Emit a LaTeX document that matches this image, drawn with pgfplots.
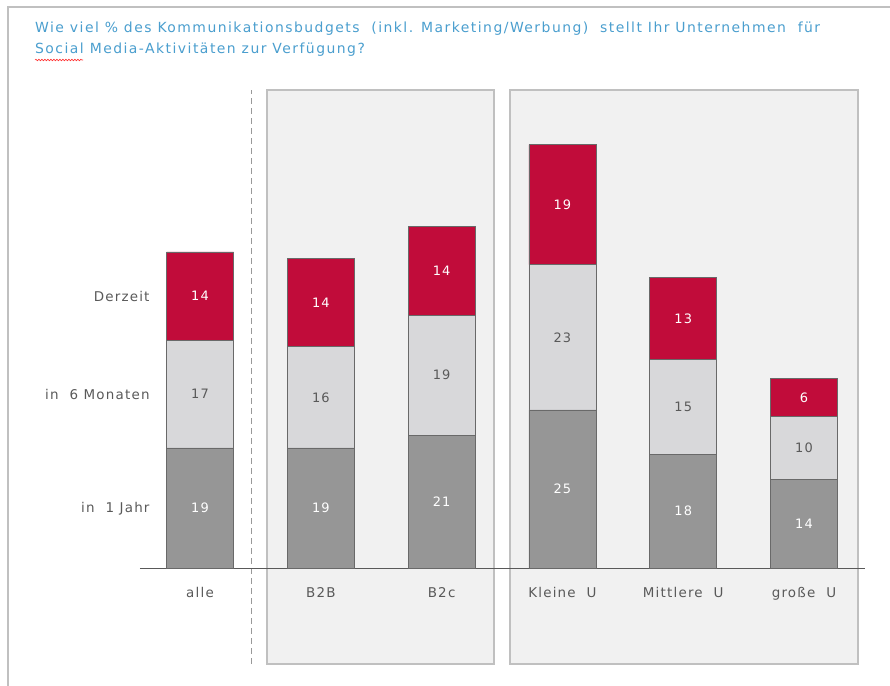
\documentclass[border=0pt]{standalone}
\usepackage{fontspec}
\setmainfont{DejaVu Sans}
\newfontfamily\lbl[LetterSpace=9]{DejaVu Sans}
\newfontfamily\ttl[LetterSpace=10.5]{DejaVu Sans}
\usepackage{pgfplots}
\pgfplotsset{compat=1.18}
\usepackage{pgfplotstable}
\usetikzlibrary{decorations.pathmorphing}

\definecolor{crimson}{RGB}{193,12,58}
\definecolor{lightbar}{RGB}{216,216,218}
\definecolor{darkbar}{RGB}{150,150,150}
\definecolor{baredge}{RGB}{105,105,105}
\definecolor{boxfill}{RGB}{241,241,241}
\definecolor{boxline}{RGB}{192,192,192}
\definecolor{txt}{RGB}{89,89,89}
\definecolor{titleblue}{RGB}{74,158,206}

% x: 0 = alle, 1 = B2B, 2 = B2c, 3 = Kleine U, 4 = Mittlere U, 5 = grosse U
\pgfplotstableread{
x jahr monate derzeit
0 19 17 14
1 19 16 14
2 21 19 14
3 25 23 19
4 18 15 13
5 14 10 6
}\budget

\begin{document}
\begin{tikzpicture}[x=1bp, y=1bp]
% screenshot frame, group boxes and separator (behind the axis)
\draw[boxline, line width=2bp] (8,0) -- (8,679) -- (890,679);
\filldraw[fill=boxfill, draw=boxline, line width=2.6bp] (267,22) rectangle (494,596);
\filldraw[fill=boxfill, draw=boxline, line width=2.6bp] (510,22) rectangle (858,596);
\draw[black!40, dash pattern=on 6bp off 4bp, line width=0.8bp] (251,22) -- (251,596);

\begin{axis}[
    name=ax,
    at={(0,0)}, anchor=south west,
    width=890bp, height=686bp, scale only axis,
    xmin=-1.656, xmax=5.712,
    ymin=-18.67, ymax=89.87,
    clip=false,
    ybar stacked,
    bar width=67bp,
    axis x line=middle,
    axis y line=none,
    x axis line style={draw=none},
    xtick=data,
    xticklabels={alle, B2B, B2c, Kleine~~U, Mittlere~~U, große~~U},
    major tick length=0pt,
    xticklabel style={anchor=north, yshift=-16bp, text=txt,
        font=\lbl\fontsize{13.5}{15}\selectfont},
    ytick=\empty,
    /pgf/number format/assume math mode=true,
    every node near coord/.append style={font=\lbl\fontsize{13}{15}\selectfont},
]
\addplot[fill=darkbar, draw=baredge, line width=0.8bp,
    nodes near coords, point meta=rawy,
    every node near coord/.append style={anchor=center, text=white}]
    table[x=x, y=jahr] {\budget};
\addplot[fill=lightbar, draw=baredge, line width=0.8bp,
    nodes near coords, point meta=rawy,
    every node near coord/.append style={anchor=center, text=txt}]
    table[x=x, y=monate] {\budget};
\addplot[fill=crimson, draw=baredge, line width=0.8bp,
    nodes near coords, point meta=rawy,
    every node near coord/.append style={anchor=center, text=white}]
    table[x=x, y=derzeit] {\budget};

% baseline
\draw[txt, line width=0.9bp] (axis cs:-0.497,0) -- (axis cs:5.505,0);

% row labels
\node[anchor=east, text=txt, font=\lbl\fontsize{13.5}{15}\selectfont] at (axis cs:-0.389,42.9) {Derzeit};
\node[anchor=east, text=txt, font=\lbl\fontsize{13.5}{15}\selectfont] at (axis cs:-0.389,27.4) {in~~6 Monaten};
\node[anchor=east, text=txt, font=\lbl\fontsize{13.5}{15}\selectfont] at (axis cs:-0.389,9.3) {in~~1 Jahr};

% title
\node[anchor=base west, inner sep=0pt, text=titleblue, font=\ttl\fontsize{14}{16}\selectfont]
    at (rel axis cs:0.0393,0.9519) {Wie viel \% des Kommunikationsbudgets~~(inkl. Marketing/Werbung)~~stellt Ihr Unternehmen~~für};
\node[anchor=base west, inner sep=0pt, text=titleblue, font=\ttl\fontsize{14}{16}\selectfont]
    at (rel axis cs:0.0393,0.9227) {Social Media-Aktivitäten zur Verfügung?};
\draw[red!80, line width=0.6bp, decorate, decoration={snake, amplitude=0.8bp, segment length=3bp}]
    (rel axis cs:0.0393,0.9125) -- (rel axis cs:0.0933,0.9125);
\end{axis}
\pgfresetboundingbox
\path (ax.south west) rectangle (ax.north east);
\end{tikzpicture}
\end{document}
